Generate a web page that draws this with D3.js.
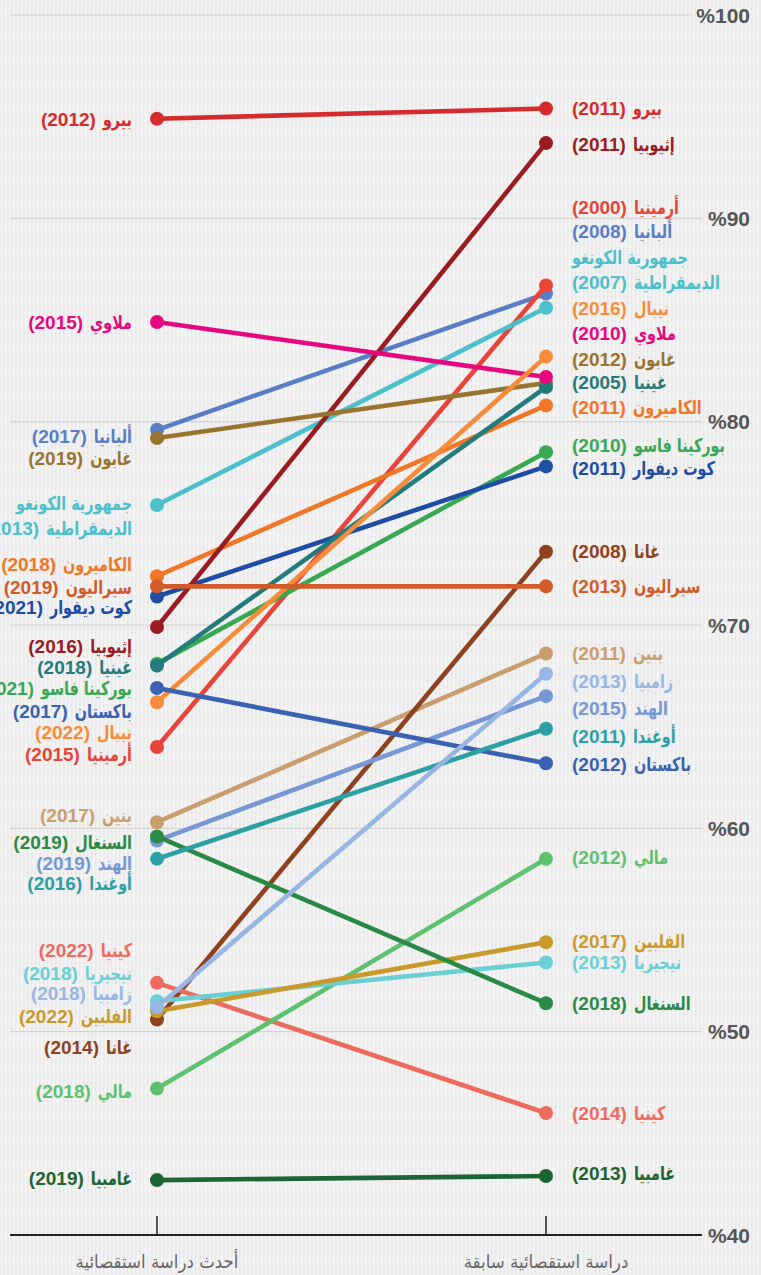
<!DOCTYPE html>
<html lang="ar">
<head>
<meta charset="utf-8">
<script src="https://cdn.jsdelivr.net/npm/d3@7"></script>
<style>
  html, body { margin: 0; padding: 0; background: #ededed; }
  svg { display: block; }
</style>
</head>
<body>
<div id="chart"></div>
<script>
// Countries, drawn in this order (later ones sit on top)
const countries = ['Albania', 'Armenia', 'Benin', 'Burkina Faso', 'Cameroon', "Cote d'Ivoire", 'DR Congo',
    'Ethiopia', 'Gabon', 'Gambia', 'Ghana', 'Guinea', 'India', 'Kenya', 'Malawi', 'Mali', 'Nepal',
    'Nigeria', 'Pakistan', 'Peru', 'Philippines', 'Senegal', 'Sierra Leone', 'Uganda', 'Zambia'];
const arabicNames = ['ألبانيا', 'أرمينيا', 'بنين', 'بوركينا فاسو', 'الكاميرون', 'كوت ديفوار', 'جمهورية الكونغو\nالديمقراطية',
    'إثيوبيا', 'غابون', 'غامبيا', 'غانا', 'غينيا', 'الهند', 'كينيا', 'ملاوي', 'مالي', 'نيبال',
    'نيجيريا', 'باكستان', 'بيرو', 'الفلبين', 'السنغال', 'سيراليون', 'أوغندا', 'زامبيا'];
const latestYear = [2017, 2015, 2017, 2021, 2018, 2021, 2013, 2016, 2019, 2019, 2014, 2018, 2019,
    2022, 2015, 2018, 2022, 2018, 2017, 2012, 2022, 2019, 2019, 2016, 2018];
const previousYear = [2008, 2000, 2011, 2010, 2011, 2011, 2007, 2011, 2012, 2013, 2008, 2005, 2015,
    2014, 2010, 2012, 2016, 2013, 2012, 2011, 2017, 2018, 2013, 2011, 2013];
// Share (%) in latest and previous survey
const latestValue = [79.6, 64.0, 60.3, 68.1, 72.4, 71.4, 75.9, 69.9, 79.2, 42.7, 50.6, 68.0, 59.4,
    52.4, 84.9, 47.2, 66.2, 51.5, 66.9, 94.9, 51.0, 59.6, 71.9, 58.5, 51.2];
const previousValue = [86.3, 86.7, 68.6, 78.5, 80.8, 77.8, 85.6, 93.7, 81.9, 42.9, 73.6, 81.7, 66.5,
    46.0, 82.2, 58.5, 83.2, 53.4, 63.2, 95.4, 54.4, 51.4, 71.9, 64.9, 67.6];
// Where each label sits on the value axis (labels are spread out so they do not collide)
const latestLabelAt = [79.29, 63.65, 60.65, 66.9, 73.0, 70.88, 76.0, 68.96, 78.21, 42.8, 49.24, 67.93, 58.29,
    54.0, 84.9, 47.07, 64.73, 52.88, 65.77, 94.9, 50.76, 59.32, 71.86, 57.3, 51.9];
const previousLabelAt = [89.38, 90.56, 68.62, 78.85, 80.72, 77.72, 88.1, 93.65, 83.08, 43.04, 73.64, 81.95, 65.91,
    45.99, 84.36, 58.58, 85.59, 53.42, 63.16, 95.43, 54.45, 51.4, 71.91, 64.54, 67.24];
const colors = ['#5a7ec6', '#e8443a', '#c99e6e', '#3aa853', '#f07628', '#1f4da3', '#4bbfca',
    '#9a1c22', '#98742e', '#1d6433', '#8d4220', '#247b7b', '#7697d4', '#ee6b60', '#e5087f',
    '#5ec16f', '#f68c3a', '#6bcfd5', '#3a62b2', '#d52b2c', '#c99a2b', '#2a8a45', '#d15c2a',
    '#2ca0a4', '#98b6e4'];
const surveys = ['أحدث دراسة استقصائية', 'دراسة استقصائية سابقة'];
const yTicks = [40, 50, 60, 70, 80, 90, 100];

const width = 761;
const height = 1275;
const latinFont = "'Liberation Sans', Arial, sans-serif";
const arabicFont = "'DejaVu Sans Condensed', 'DejaVu Sans', sans-serif";

const svg = d3.select('#chart')
    .append('svg')
    .attr('width', width)
    .attr('height', height);

// Woven background texture
const defs = svg.append('defs');
const pat = defs.append('pattern')
    .attr('id', 'weave')
    .attr('width', 4)
    .attr('height', 6)
    .attr('patternUnits', 'userSpaceOnUse');
pat.append('rect').attr('width', 4).attr('height', 6).attr('fill', '#ececec');
pat.append('rect').attr('x', 1).attr('width', 1.5).attr('height', 6).attr('fill', '#f6f6f6');
pat.append('rect').attr('x', 3).attr('y', 2).attr('width', 1).attr('height', 2).attr('fill', '#e4e4e4');
svg.append('rect').attr('width', width).attr('height', height).attr('fill', 'url(#weave)');

// Scales
const x = d3.scalePoint()
    .domain(surveys)
    .range([157, 546]);
const y = d3.scaleLinear()
    .domain([40, 100])
    .range([1235, 15]);

const gridLeft = 10;
const gridRight = 702;

// Gridlines and tick labels
const ticks = svg.append('g');
yTicks.forEach(t => {
    const lbl = ticks.append('text')
        .attr('x', 750)
        .attr('y', y(t))
        .attr('dy', '0.36em')
        .attr('text-anchor', 'end')
        .attr('font-family', latinFont)
        .attr('font-weight', 'bold')
        .attr('font-size', 21)
        .attr('fill', '#555')
        .text('%' + t);
    const w = lbl.node().getComputedTextLength();
    const end = Math.min(gridRight, 750 - w - 6);
    if (t === 40) return;
    ticks.insert('line', 'text')
        .attr('x1', gridLeft)
        .attr('x2', end)
        .attr('y1', y(t))
        .attr('y2', y(t))
        .attr('stroke', '#d2d2d2')
        .attr('stroke-width', 1.2);
});

// Baseline with survey ticks
svg.append('line')
    .attr('x1', gridLeft)
    .attr('x2', gridRight)
    .attr('y1', y(40))
    .attr('y2', y(40))
    .attr('stroke', '#222')
    .attr('stroke-width', 2);
surveys.forEach(s => {
    svg.append('line')
        .attr('x1', x(s))
        .attr('x2', x(s))
        .attr('y1', y(40) - 19)
        .attr('y2', y(40))
        .attr('stroke', '#222')
        .attr('stroke-width', 1.5);
    svg.append('text')
        .attr('x', x(s))
        .attr('y', 1262)
        .attr('dy', '0.35em')
        .attr('text-anchor', 'middle')
        .attr('font-family', arabicFont)
        .attr('font-size', 18.5)
        .attr('fill', '#666')
        .text(s);
});

// Build rows from the arrays
const rows = countries.map((c, i) => ({
    country: c,
    name: arabicNames[i],
    color: colors[i],
    ends: [
        { survey: surveys[0], value: latestValue[i], year: latestYear[i], labelAt: latestLabelAt[i] },
        { survey: surveys[1], value: previousValue[i], year: previousYear[i], labelAt: previousLabelAt[i] }
    ]
}));

// Lines and dots per country
const groups = svg.append('g')
    .selectAll('g')
    .data(rows)
    .enter()
    .append('g');

groups.append('line')
    .attr('x1', d => x(d.ends[0].survey))
    .attr('y1', d => y(d.ends[0].value))
    .attr('x2', d => x(d.ends[1].survey))
    .attr('y2', d => y(d.ends[1].value))
    .attr('stroke', d => d.color)
    .attr('stroke-width', 4.6)
    .attr('stroke-linecap', 'round');

groups.selectAll('circle')
    .data(d => d.ends.map(e => Object.assign({ color: d.color }, e)))
    .enter()
    .append('circle')
    .attr('cx', e => x(e.survey))
    .attr('cy', e => y(e.value))
    .attr('r', 7)
    .attr('fill', e => e.color);

// Labels: Arabic name on the right, "(year)" on the left of it
const labelLayer = svg.append('g');
const squeeze = 0.84;   // Arabic glyphs are narrowed a little
const gap = 7;
const lineStep = 25;

function arabicText(g, str, color) {
    const t = g.append('text')
        .attr('font-family', arabicFont)
        .attr('font-weight', 'bold')
        .attr('font-size', 19)
        .attr('fill', color)
        .attr('dy', '0.36em')
        .text(str);
    const w = t.node().getComputedTextLength() * squeeze;
    t.attr('textLength', w).attr('lengthAdjust', 'spacingAndGlyphs');
    return { node: t, width: w };
}

rows.forEach(d => {
    d.ends.forEach((e, side) => {
        const lines = d.name.split('\n');
        const baseY = y(e.labelAt);
        lines.forEach((ln, k) => {
            const ly = baseY + k * lineStep;
            const last = k === lines.length - 1;
            const nm = arabicText(labelLayer, ln, d.color);
            let yr = null;
            if (last) {
                yr = labelLayer.append('text')
                    .attr('font-family', latinFont)
                    .attr('font-weight', 'bold')
                    .attr('font-size', 19)
                    .attr('fill', d.color)
                    .attr('dy', '0.36em')
                    .text('(' + e.year + ')');
            }
            const yw = yr ? yr.node().getComputedTextLength() : 0;
            if (side === 0) {
                // right-aligned against the left axis
                const right = x(e.survey) - 25;
                nm.node.attr('x', right - nm.width).attr('y', ly);
                if (yr) yr.attr('x', right - nm.width - gap - yw).attr('y', ly);
            } else {
                // left-aligned after the right axis
                const left = x(e.survey) + 26;
                if (yr) {
                    yr.attr('x', left).attr('y', ly);
                    nm.node.attr('x', left + yw + gap).attr('y', ly);
                } else {
                    nm.node.attr('x', left).attr('y', ly);
                }
            }
        });
    });
});
</script>
</body>
</html>
